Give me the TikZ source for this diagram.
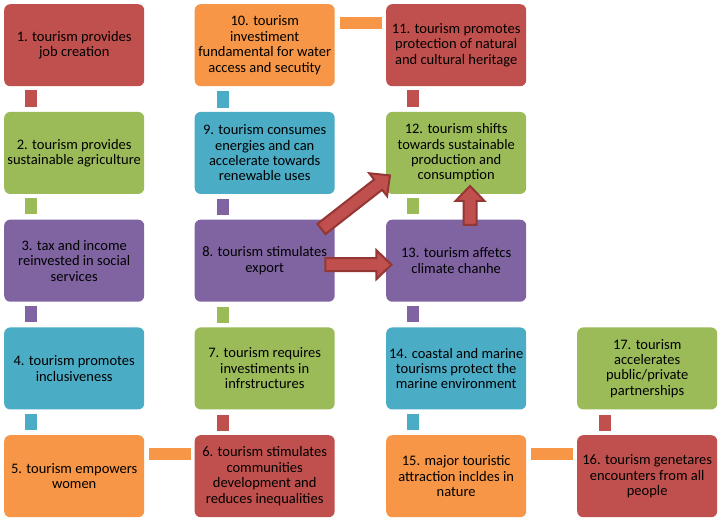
\documentclass[tikz,border=0pt]{standalone}
\usepackage{fontspec}
\setmainfont{Carlito}
\usetikzlibrary{calc}
\definecolor{cred}{HTML}{C0504D}
\definecolor{cgreen}{HTML}{9BBB59}
\definecolor{cpurple}{HTML}{8064A2}
\definecolor{cblue}{HTML}{4BACC6}
\definecolor{corange}{HTML}{F79646}
\definecolor{cdark}{HTML}{943634}
\newcommand\blockarrow[3]{%
  \begin{scope}[shift={#1}, rotate=#2]
    \filldraw[fill=cred, draw=cdark, line width=2pt, line join=miter]
      (0,-6.5) -- (#3-15,-6.5) -- (#3-15,-14.5) -- (#3,0) -- (#3-15,14.5) -- (#3-15,6.5) -- (0,6.5) -- cycle;
  \end{scope}}
\begin{document}
\begin{tikzpicture}[x=1pt,y=-1pt,
  box/.style={rounded corners=6pt, minimum width=140pt, minimum height=82pt, inner sep=0pt,
    align=center, anchor=north west, text=black, font=\fontsize{14.5}{15.4}\selectfont},
  conn/.style={line width=12pt, draw=#1}]
\useasboundingbox[fill=white] (0,0) rectangle (721,521);
% column 1
\node[box, fill=cred]    (n1)  at (4,4)       {1. tourism provides\\job creation};
\node[box, fill=cgreen]  (n2)  at (4,111.75)  {2. tourism provides\\sustainable agriculture};
\node[box, fill=cpurple] (n3)  at (4,219.5)   {3. tax and income\\reinvested in social\\services};
\node[box, fill=cblue]   (n4)  at (4,327.25)  {4. tourism promotes\\inclusiveness};
\node[box, fill=corange] (n5)  at (4,435)     {5. tourism empowers\\women};
% column 2
\node[box, fill=cred]    (n6)  at (194.5,435)    {6. tourism stimulates\\communities\\development and\\reduces inequalities};
\node[box, fill=cgreen]  (n7)  at (194.5,327.25) {7. tourism requires\\investiments in\\infrstructures};
\node[box, fill=cpurple] (n8)  at (194.5,219.5)  {8. tourism stimulates\\export};
\node[box, fill=cblue]   (n9)  at (194.5,111.75) {9. tourism consumes\\energies and can\\accelerate towards\\renewable uses};
\node[box, fill=corange] (n10) at (194.5,4)      {10. tourism\\investiment\\fundamental for water\\access and secutity};
% column 3
\node[box, fill=cred]    (n11) at (386,4)      {11. tourism promotes\\protection of natural\\and cultural heritage};
\node[box, fill=cgreen]  (n12) at (386,111.75) {12. tourism shifts\\towards sustainable\\production and\\consumption};
\node[box, fill=cpurple] (n13) at (386,219.5)  {13. tourism affetcs\\climate chanhe};
\node[box, fill=cblue]   (n14) at (386,327.25) {14. coastal and marine\\tourisms protect the\\marine environment};
\node[box, fill=corange] (n15) at (386,435)    {15. major touristic\\attraction incldes in\\nature};
% column 4
\node[box, fill=cred]    (n16) at (577,435)    {16. tourism genetares\\encounters from all\\people};
\node[box, fill=cgreen]  (n17) at (577,327.25) {17. tourism\\accelerates\\public/private\\partnerships};
% vertical connectors (down)
\draw[conn=cred]    ($(n1.south west)+(27,4)$)  -- ($(n2.north west)+(27,-5)$);
\draw[conn=cgreen]  ($(n2.south west)+(27,4)$)  -- ($(n3.north west)+(27,-5)$);
\draw[conn=cpurple] ($(n3.south west)+(27,4)$)  -- ($(n4.north west)+(27,-5)$);
\draw[conn=cblue]   ($(n4.south west)+(27,4)$)  -- ($(n5.north west)+(27,-5)$);
\draw[conn=cred]    ($(n11.south west)+(27,4)$) -- ($(n12.north west)+(27,-5)$);
\draw[conn=cgreen]  ($(n12.south west)+(27,4)$) -- ($(n13.north west)+(27,-5)$);
\draw[conn=cpurple] ($(n13.south west)+(27,4)$) -- ($(n14.north west)+(27,-5)$);
\draw[conn=cblue]   ($(n14.south west)+(27,4)$) -- ($(n15.north west)+(27,-5)$);
% vertical connectors (up)
\draw[conn=cred]    ($(n6.north west)+(28,-4)$)  -- ($(n7.south west)+(28,5)$);
\draw[conn=cgreen]  ($(n7.north west)+(28,-4)$)  -- ($(n8.south west)+(28,5)$);
\draw[conn=cpurple] ($(n8.north west)+(28,-4)$)  -- ($(n9.south west)+(28,5)$);
\draw[conn=cblue]   ($(n9.north west)+(28,-4)$)  -- ($(n10.south west)+(28,5)$);
\draw[conn=cred]    ($(n16.north west)+(27.5,-4)$) -- ($(n17.south west)+(27.5,5)$);
% horizontal connectors
\draw[conn=corange] ($(n5.north east)+(5,19)$)  -- ($(n6.north west)+(-4,19)$);
\draw[conn=corange] ($(n10.north east)+(5,19)$) -- ($(n11.north west)+(-4,19)$);
\draw[conn=corange] ($(n15.north east)+(5,19)$) -- ($(n16.north west)+(-4,19)$);
% block arrows
\blockarrow{($(n8.east)+(-9.5,4)$)}{0}{66}
\blockarrow{($(n13.north west)+(84,5.5)$)}{90}{39}
\blockarrow{($(n8.north east)+(-13.5,9.5)$)}{38}{87}
\end{tikzpicture}
\end{document}
